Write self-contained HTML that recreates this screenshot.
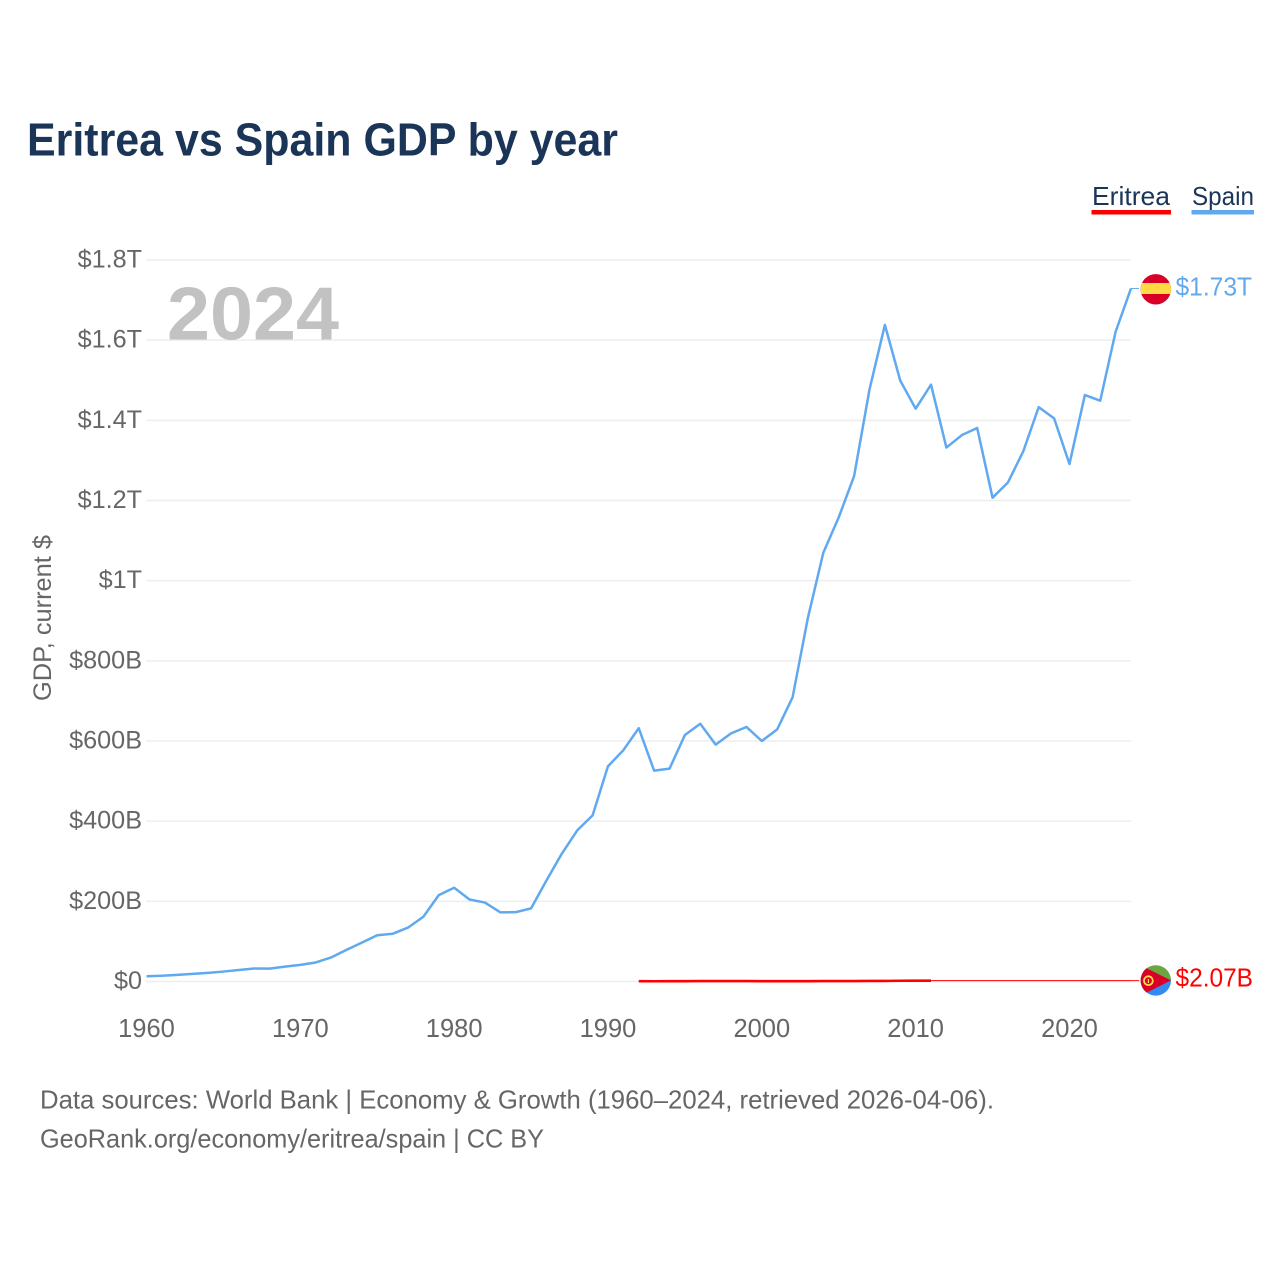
<!DOCTYPE html>
<html lang="en">
<head>
<meta charset="utf-8">
<title>Eritrea vs Spain GDP by year</title>
<style>
  html, body { margin: 0; padding: 0; background: #fff; }
  svg { display: block; font-family: "Liberation Sans", sans-serif; }
</style>
</head>
<body>
<svg id="chart" xmlns="http://www.w3.org/2000/svg" width="1280" height="1280" viewBox="0 0 1280 1280">
  <rect width="1280" height="1280" fill="#ffffff"/>
  <text x="27" y="155.5" font-size="46" font-weight="bold" fill="#1a3557" textLength="591" lengthAdjust="spacingAndGlyphs">Eritrea vs Spain GDP by year</text>

  <g>
    <g>
      <text x="1092" y="205" font-size="26" fill="#1a3557" textLength="78" lengthAdjust="spacingAndGlyphs">Eritrea</text>
      <rect x="1091.5" y="210" width="79.5" height="4.5" fill="#ff0000"/>
    </g>
    <g>
      <text x="1192" y="205" font-size="26" fill="#1a3557" textLength="62" lengthAdjust="spacingAndGlyphs">Spain</text>
      <rect x="1191.5" y="210" width="62.5" height="4.5" fill="#60a9f0"/>
    </g>
  </g>

  <g id="grid"></g>
  <g id="yTicks"></g>
  <g id="xTicks"></g>

  <text transform="translate(51,618) rotate(-90)" text-anchor="middle" font-size="25" fill="#666666" textLength="166" lengthAdjust="spacingAndGlyphs">GDP, current $</text>

  <text x="167" y="339.5" font-size="75" font-weight="bold" fill="#c2c2c2" textLength="172" lengthAdjust="spacingAndGlyphs">2024</text>

  <g id="series"></g>

  <defs>
    <clipPath id="flagClipSpain"><circle cx="1155.8" cy="289.3" r="15.2"/></clipPath>
    <clipPath id="flagClipEritrea"><circle cx="1155.8" cy="980.4" r="15.2"/></clipPath>
  </defs>

  <g clip-path="url(#flagClipSpain)">
    <rect x="1140" y="274" width="32" height="31" fill="#d80027"/>
    <rect x="1140" y="283" width="32" height="11" fill="#ffda44"/>
  </g>
  <text x="1175.5" y="295.5" font-size="25.5" fill="#60a9f0" textLength="76.5" lengthAdjust="spacingAndGlyphs">$1.73T</text>

  <g clip-path="url(#flagClipEritrea)">
    <rect x="1140" y="965" width="32" height="16" fill="#6da544"/>
    <rect x="1140" y="980.4" width="32" height="16" fill="#338af3"/>
    <polygon points="1140,965 1171,980.4 1140,996" fill="#d80027"/>
    <circle cx="1148.4" cy="980.7" r="4.4" fill="none" stroke="#ffda44" stroke-width="1.8"/>
    <rect x="1147.8" y="979" width="1.2" height="4" fill="#ffda44"/>
  </g>
  <text x="1175.5" y="986.5" font-size="25.5" fill="#ff0000" textLength="77.5" lengthAdjust="spacingAndGlyphs">$2.07B</text>

  <text x="40" y="1108.5" font-size="26" fill="#666666" textLength="954" lengthAdjust="spacingAndGlyphs">Data sources: World Bank | Economy &amp; Growth (1960–2024, retrieved 2026-04-06).</text>
  <text x="40" y="1147.5" font-size="26" fill="#666666" textLength="504" lengthAdjust="spacingAndGlyphs">GeoRank.org/economy/eritrea/spain | CC BY</text>
</svg>

<script>
// Chart data (GDP in billions of current US$)
const spainStartYear = 1960;
const spainValues = [
  13, 14.5, 16.5, 19, 21.5, 24.8, 28.7, 32.5, 32, 37,
  41.5, 47.5, 60, 79, 97, 115.5, 119, 134.5, 161.5, 215.5,
  234, 204.5, 197, 172.5, 173, 182.5, 252, 319, 377, 414.5,
  537, 577, 632, 526, 531, 615, 643, 591, 619, 635,
  600, 629, 709, 908, 1070, 1158, 1261, 1477, 1638, 1499,
  1429, 1489, 1332, 1363, 1381, 1207, 1245, 1323, 1433, 1405,
  1291, 1463, 1449, 1621, 1729
];
const eritreaStartYear = 1992;
const eritreaValues = [
  0.7, 0.6, 0.7, 0.9, 1.0, 1.1, 1.2, 1.1, 0.7, 0.8,
  0.9, 0.9, 1.1, 1.1, 1.2, 1.3, 1.4, 1.9, 2.1, 2.07
];
const eritreaHeldYears = [2011, 2024];
const eritreaHeldValues = [2.07, 2.07];
const yTickValues = [0, 200, 400, 600, 800, 1000, 1200, 1400, 1600, 1800];
const yTickLabels = ["$0", "$200B", "$400B", "$600B", "$800B", "$1T", "$1.2T", "$1.4T", "$1.6T", "$1.8T"];
const xTickYears = [1960, 1970, 1980, 1990, 2000, 2010, 2020];

// Axis functions
const xScale = year => 146.5 + (year - 1960) * (1131 - 146.5) / 64;
const yScale = value => 981.5 - value * (981.5 - 260) / 1800;

const NS = "http://www.w3.org/2000/svg";
const grid = document.getElementById("grid");
const yTicks = document.getElementById("yTicks");
const xTicks = document.getElementById("xTicks");
const seriesGroup = document.getElementById("series");

yTickValues.forEach((value, i) => {
  const line = document.createElementNS(NS, "line");
  line.setAttribute("x1", 146);
  line.setAttribute("x2", 1131);
  line.setAttribute("y1", yScale(value));
  line.setAttribute("y2", yScale(value));
  line.setAttribute("stroke", "#eeeeee");
  line.setAttribute("stroke-width", "1.5");
  
  
  grid.appendChild(line);

  const label = document.createElementNS(NS, "text");
  label.setAttribute("x", 142);
  label.setAttribute("y", yScale(value) + 7.5);
  label.setAttribute("text-anchor", "end");
  label.setAttribute("font-size", "25.2");
  label.setAttribute("fill", "#666666");
  label.textContent = yTickLabels[i];
  
  
  yTicks.appendChild(label);
});

xTickYears.forEach(year => {
  const label = document.createElementNS(NS, "text");
  label.setAttribute("x", xScale(year));
  label.setAttribute("y", 1037);
  label.setAttribute("text-anchor", "middle");
  label.setAttribute("font-size", "25.5");
  label.setAttribute("fill", "#666666");
  label.textContent = year;
  
  
  xTicks.appendChild(label);
});

function linePoints(startYear, values) {
  return values.map((v, i) => xScale(startYear + i).toFixed(2) + "," + yScale(v).toFixed(2)).join(" ");
}

const heldLine = document.createElementNS(NS, "polyline");
heldLine.setAttribute("points", eritreaHeldYears.map((y, i) => xScale(y).toFixed(2) + "," + yScale(eritreaHeldValues[i]).toFixed(2)).join(" "));
heldLine.setAttribute("fill", "none");
heldLine.setAttribute("stroke", "#ff0000");
heldLine.setAttribute("stroke-width", "1");


seriesGroup.appendChild(heldLine);

const eritreaLine = document.createElementNS(NS, "polyline");
eritreaLine.setAttribute("points", linePoints(eritreaStartYear, eritreaValues));
eritreaLine.setAttribute("fill", "none");
eritreaLine.setAttribute("stroke", "#ff0000");
eritreaLine.setAttribute("stroke-width", "2.6");


seriesGroup.appendChild(eritreaLine);

const spainLine = document.createElementNS(NS, "polyline");
spainLine.setAttribute("points", linePoints(spainStartYear, spainValues));
spainLine.setAttribute("fill", "none");
spainLine.setAttribute("stroke", "#60a9f0");
spainLine.setAttribute("stroke-width", "2.5");
spainLine.setAttribute("stroke-linejoin", "round");


seriesGroup.appendChild(spainLine);

// Connectors from the last data point to the flag markers
const spainLast = spainValues[spainValues.length - 1];
const spainConnector = document.createElementNS(NS, "line");
spainConnector.setAttribute("x1", xScale(2024));
spainConnector.setAttribute("x2", 1139);
spainConnector.setAttribute("y1", yScale(spainLast));
spainConnector.setAttribute("y2", yScale(spainLast));
spainConnector.setAttribute("stroke", "#60a9f0");
spainConnector.setAttribute("stroke-width", "1");


seriesGroup.appendChild(spainConnector);

const eritreaLast = eritreaHeldValues[eritreaHeldValues.length - 1];
const eritreaConnector = document.createElementNS(NS, "line");
eritreaConnector.setAttribute("x1", xScale(2024));
eritreaConnector.setAttribute("x2", 1139);
eritreaConnector.setAttribute("y1", yScale(eritreaLast));
eritreaConnector.setAttribute("y2", yScale(eritreaLast));
eritreaConnector.setAttribute("stroke", "#ff0000");
eritreaConnector.setAttribute("stroke-width", "1");


seriesGroup.appendChild(eritreaConnector);
</script>
</body>
</html>
